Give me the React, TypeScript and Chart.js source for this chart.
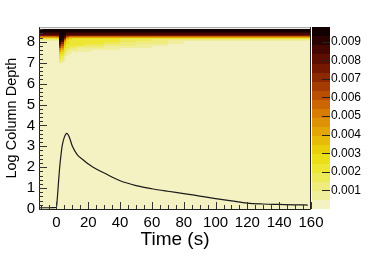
import React, { useEffect, useRef } from 'react';
import { Chart, registerables } from 'chart.js';

Chart.register(...registerables);

const FONT = 'Liberation Sans, Arial, Helvetica, sans-serif';

// Black curve: time (s) vs log column depth
const TIME_POINTS = [-11, -5, 0, 0.5, 1, 2, 3, 3.5, 5, 6.5, 8, 10, 13, 16, 20, 23, 30, 40, 50, 60, 70, 80, 90, 100, 110, 120, 130, 140, 150, 158];
const COLUMN_DEPTH = [0.06, 0.06, 0.08, 0.5, 1.0, 2.0, 2.7, 3.0, 3.45, 3.62, 3.45, 3.0, 2.6, 2.4, 2.15, 2.0, 1.72, 1.35, 1.12, 0.97, 0.85, 0.74, 0.62, 0.5, 0.39, 0.28, 0.24, 0.22, 0.2, 0.19];

// Heat map bins
const TIME_EDGES = [-11, 0, 1.5, 3, 4.5, 6, 8, 10, 13, 17, 22, 30, 40, 50, 60, 70, 80, 160];
const DEPTH_EDGES = [0, 6.9, 7.0, 7.1, 7.2, 7.3, 7.4, 7.5, 7.6, 7.7, 7.8, 7.9, 8.0, 8.05, 8.1, 8.15, 8.2, 8.25, 8.3, 8.35, 8.4, 8.45, 8.5, 8.55, 8.6];
// values in units of 1e-3, one array per time bin, listed from the lowest depth bin upward
const HEAT_VALUES_E3 = [
  [0.2, 0.2, 0.2, 0.2, 0.2, 0.2, 0.2, 0.2, 0.2, 0.2, 0.2, 0.2, 0.2, 0.6, 1.2, 2.4, 4.0, 5.8, 7.4, 8.5, 9.1, 9.4, 9.6, 9.7],
  [0.2, 0.2, 0.2, 0.2, 0.2, 0.2, 0.2, 0.2, 0.2, 0.2, 0.2, 0.2, 0.3, 0.7, 1.4, 2.6, 4.4, 6.2, 7.8, 8.7, 9.2, 9.5, 9.6, 9.7],
  [0.2, 0.2, 1.2, 1.7, 2.2, 2.7, 3.2, 4.0, 5.1, 6.6, 7.6, 8.6, 9.0, 9.2, 9.3, 9.4, 9.5, 9.5, 9.6, 9.6, 9.7, 9.7, 9.7, 9.7],
  [0.2, 0.2, 0.7, 1.2, 1.7, 2.2, 2.7, 3.2, 4.0, 5.0, 6.0, 7.0, 8.0, 8.5, 9.0, 9.2, 9.4, 9.5, 9.6, 9.7, 9.7, 9.7, 9.7, 9.7],
  [0.2, 0.2, 0.2, 0.7, 0.7, 1.2, 1.7, 2.2, 2.4, 2.7, 3.0, 3.5, 4.2, 5.0, 6.0, 7.0, 8.0, 8.6, 9.0, 9.3, 9.5, 9.6, 9.7, 9.7],
  [0.2, 0.2, 0.2, 0.2, 0.2, 0.7, 0.9, 1.2, 1.7, 2.1, 2.3, 2.5, 2.6, 2.8, 3.2, 4.0, 5.2, 6.4, 7.6, 8.6, 9.1, 9.4, 9.6, 9.7],
  [0.2, 0.2, 0.2, 0.2, 0.2, 0.2, 0.7, 0.9, 1.3, 1.8, 2.2, 2.3, 2.4, 2.4, 2.6, 3.2, 4.4, 5.8, 7.4, 8.5, 9.1, 9.4, 9.6, 9.7],
  [0.2, 0.2, 0.2, 0.2, 0.2, 0.2, 0.2, 0.7, 1.0, 1.5, 2.1, 2.3, 2.3, 2.4, 2.4, 2.8, 4.2, 5.8, 7.4, 8.5, 9.1, 9.4, 9.6, 9.7],
  [0.2, 0.2, 0.2, 0.2, 0.2, 0.2, 0.2, 0.7, 0.9, 1.3, 2.0, 2.2, 2.3, 2.3, 2.4, 2.7, 4.1, 5.8, 7.4, 8.5, 9.1, 9.4, 9.6, 9.7],
  [0.2, 0.2, 0.2, 0.2, 0.2, 0.2, 0.2, 0.6, 0.8, 1.2, 1.8, 2.1, 2.2, 2.2, 2.3, 2.6, 4.0, 5.8, 7.4, 8.5, 9.1, 9.4, 9.6, 9.7],
  [0.2, 0.2, 0.2, 0.2, 0.2, 0.2, 0.2, 0.2, 0.7, 1.0, 1.5, 2.0, 2.1, 2.2, 2.2, 2.5, 4.0, 5.8, 7.4, 8.5, 9.1, 9.4, 9.6, 9.7],
  [0.2, 0.2, 0.2, 0.2, 0.2, 0.2, 0.2, 0.2, 0.6, 0.8, 1.2, 1.7, 2.0, 2.0, 2.0, 2.5, 4.0, 5.8, 7.4, 8.5, 9.1, 9.4, 9.6, 9.7],
  [0.2, 0.2, 0.2, 0.2, 0.2, 0.2, 0.2, 0.2, 0.2, 0.7, 1.0, 1.4, 1.7, 1.8, 1.8, 2.4, 4.0, 5.8, 7.4, 8.5, 9.1, 9.4, 9.6, 9.7],
  [0.2, 0.2, 0.2, 0.2, 0.2, 0.2, 0.2, 0.2, 0.2, 0.6, 0.8, 1.2, 1.4, 1.5, 1.6, 2.4, 4.0, 5.8, 7.4, 8.5, 9.1, 9.4, 9.6, 9.7],
  [0.2, 0.2, 0.2, 0.2, 0.2, 0.2, 0.2, 0.2, 0.2, 0.2, 0.7, 1.0, 1.2, 1.2, 1.4, 2.4, 4.0, 5.8, 7.4, 8.5, 9.1, 9.4, 9.6, 9.7],
  [0.2, 0.2, 0.2, 0.2, 0.2, 0.2, 0.2, 0.2, 0.2, 0.2, 0.2, 0.7, 0.9, 0.9, 1.2, 2.4, 4.0, 5.8, 7.4, 8.5, 9.1, 9.4, 9.6, 9.7],
  [0.2, 0.2, 0.2, 0.2, 0.2, 0.2, 0.2, 0.2, 0.2, 0.2, 0.2, 0.2, 0.2, 0.6, 1.2, 2.4, 4.0, 5.8, 7.4, 8.5, 9.1, 9.4, 9.6, 9.7],
];
const HEAT_UNIT = 1e-3;

// Axes / colour scale
const X_TICKS = [0, 20, 40, 60, 80, 100, 120, 140, 160];
const Y_TICKS = [0, 1, 2, 3, 4, 5, 6, 7, 8];
const COLOR_TICKS = [0.001, 0.002, 0.003, 0.004, 0.005, 0.006, 0.007, 0.008, 0.009];
const COLOR_MAX = 0.00978;
const PALETTE = [
  '#f4f2c2', '#f0ed9c', '#efeb7c', '#eee956', '#ede734', '#ebdf18', '#e9cf0a', '#e6bc08',
  '#e2a706', '#de9205', '#d87c04', '#cc6503', '#ba4f02', '#a43b01', '#8c2900', '#741900',
  '#5c0e00', '#440600', '#2a0200', '#120000',
];

const colorFor = (v: number) => {
  const idx = Math.max(0, Math.min(PALETTE.length - 1, Math.floor((v / COLOR_MAX) * PALETTE.length)));
  return PALETTE[idx];
};

const heatmapPlugin = {
  id: 'heatmap',
  beforeDatasetsDraw(chart: any) {
    const { ctx, chartArea, scales } = chart;
    const xs = scales.x;
    const ys = scales.y;
    ctx.save();
    ctx.beginPath();
    ctx.rect(chartArea.left, chartArea.top, chartArea.right - chartArea.left, chartArea.bottom - chartArea.top);
    ctx.clip();
    for (let i = 0; i < HEAT_VALUES_E3.length; i++) {
      const x0 = Math.round(xs.getPixelForValue(TIME_EDGES[i]));
      const x1 = Math.round(xs.getPixelForValue(TIME_EDGES[i + 1]));
      const col = HEAT_VALUES_E3[i];
      for (let j = 0; j < col.length; j++) {
        const yb = Math.round(ys.getPixelForValue(DEPTH_EDGES[j]));
        const yt = Math.round(ys.getPixelForValue(DEPTH_EDGES[j + 1]));
        ctx.fillStyle = colorFor(col[j] * HEAT_UNIT);
        ctx.fillRect(x0, yt, x1 - x0, yb - yt);
      }
    }
    ctx.restore();
  },
  afterDraw(chart: any) {
    const { ctx, chartArea, scales } = chart;
    const xs = scales.x;
    const ys = scales.y;
    const cs = scales.c;
    ctx.save();
    // frame
    ctx.lineWidth = 1;
    ctx.strokeStyle = '#999';
    ctx.beginPath();
    ctx.moveTo(chartArea.left, chartArea.top + 0.5);
    ctx.lineTo(chartArea.right, chartArea.top + 0.5);
    ctx.stroke();
    ctx.strokeStyle = '#222';
    ctx.beginPath();
    ctx.moveTo(chartArea.left + 0.5, chartArea.top);
    ctx.lineTo(chartArea.left + 0.5, chartArea.bottom + 0.5);
    ctx.lineTo(chartArea.right - 0.5, chartArea.bottom + 0.5);
    ctx.lineTo(chartArea.right - 0.5, chartArea.top);
    ctx.stroke();
    // ticks on x
    ctx.strokeStyle = '#333';
    ctx.beginPath();
    for (let v = -10; v <= 160; v += 5) {
      const px = Math.round(xs.getPixelForValue(v)) + 0.5;
      const len = v % 20 === 0 ? 7 : 4;
      ctx.moveTo(px, chartArea.bottom);
      ctx.lineTo(px, chartArea.bottom - len);
    }
    // ticks on y
    for (let k = 0; k <= 43; k++) {
      const v = k * 0.2;
      const py = Math.round(ys.getPixelForValue(v)) + 0.5;
      const len = k % 5 === 0 ? 8 : 4;
      ctx.moveTo(chartArea.left, py);
      ctx.lineTo(chartArea.left + len, py);
    }
    ctx.stroke();
    // colour bar
    const barL = chartArea.right + 1;
    const barR = chartArea.right + 19;
    for (let k = 0; k < PALETTE.length; k++) {
      const v0 = (k * COLOR_MAX) / PALETTE.length;
      const v1 = ((k + 1) * COLOR_MAX) / PALETTE.length;
      const yb = Math.round(cs.getPixelForValue(v0));
      const yt = Math.round(cs.getPixelForValue(v1));
      ctx.fillStyle = PALETTE[k];
      ctx.fillRect(barL, yt, barR - barL, yb - yt);
    }
    ctx.strokeStyle = '#222';
    ctx.beginPath();
    for (const v of COLOR_TICKS) {
      const py = Math.round(cs.getPixelForValue(v)) + 0.5;
      ctx.moveTo(barR, py);
      ctx.lineTo(barR - 8, py);
    }
    ctx.stroke();
    ctx.restore();
  },
};

export default function App() {
  const ref = useRef<HTMLCanvasElement | null>(null);
  useEffect(() => {
    if (!ref.current) return;
    const chart = new Chart(ref.current, {
      type: 'line',
      data: {
        datasets: [
          {
            data: TIME_POINTS.map((t, i) => ({ x: t, y: COLUMN_DEPTH[i] })),
            borderColor: '#1a1a1a',
            borderWidth: 1.2,
            pointRadius: 0,
            fill: false,
            cubicInterpolationMode: 'monotone',
          },
        ],
      },
      options: {
        animation: false,
        responsive: false,
        devicePixelRatio: 1,
        layout: { padding: { top: 24, left: 0, right: 0, bottom: 0 } },
        plugins: { legend: { display: false }, tooltip: { enabled: false } },
        scales: {
          x: {
            type: 'linear',
            min: -11,
            max: 160,
            afterBuildTicks: (s: any) => { s.ticks = X_TICKS.map((v) => ({ value: v })); },
            afterFit: (s: any) => { s.height = 54; },
            grid: { display: false, drawTicks: false },
            border: { display: false },
            ticks: { padding: 5, color: '#000', font: { size: 15, family: FONT }, maxRotation: 0, autoSkip: false },
            title: { display: true, text: 'Time (s)', color: '#000', font: { size: 19, family: FONT }, padding: { top: 0, bottom: 12 } },
          },
          y: {
            type: 'linear',
            position: 'left',
            min: 0,
            max: 8.7,
            afterBuildTicks: (s: any) => { s.ticks = Y_TICKS.map((v) => ({ value: v })); },
            afterFit: (s: any) => { s.width = 39; },
            grid: { display: false, drawTicks: false },
            border: { display: false },
            ticks: { padding: 4, color: '#000', font: { size: 15, family: FONT }, autoSkip: false },
            title: { display: true, text: 'Log Column Depth', color: '#000', font: { size: 14.5, family: FONT }, padding: { top: 3, bottom: 0 } },
          },
          c: {
            type: 'linear',
            position: 'right',
            min: 0,
            max: COLOR_MAX,
            afterBuildTicks: (s: any) => { s.ticks = COLOR_TICKS.map((v) => ({ value: v })); },
            afterFit: (s: any) => { s.width = 77; },
            grid: { display: false, drawTicks: false },
            border: { display: false },
            ticks: {
              padding: 20,
              color: '#000',
              font: { size: 12, family: FONT },
              autoSkip: false,
              callback: (v: any) => Number(v).toFixed(3),
            },
          },
        },
      },
      plugins: [heatmapPlugin],
    } as any);
    return () => chart.destroy();
  }, []);
  return (
    <div style={{ position: 'fixed', left: 0, top: 0, width: 388, height: 263, background: '#fff' }}>
      <canvas ref={ref} width={388} height={263} style={{ display: 'block' }} />
    </div>
  );
}
